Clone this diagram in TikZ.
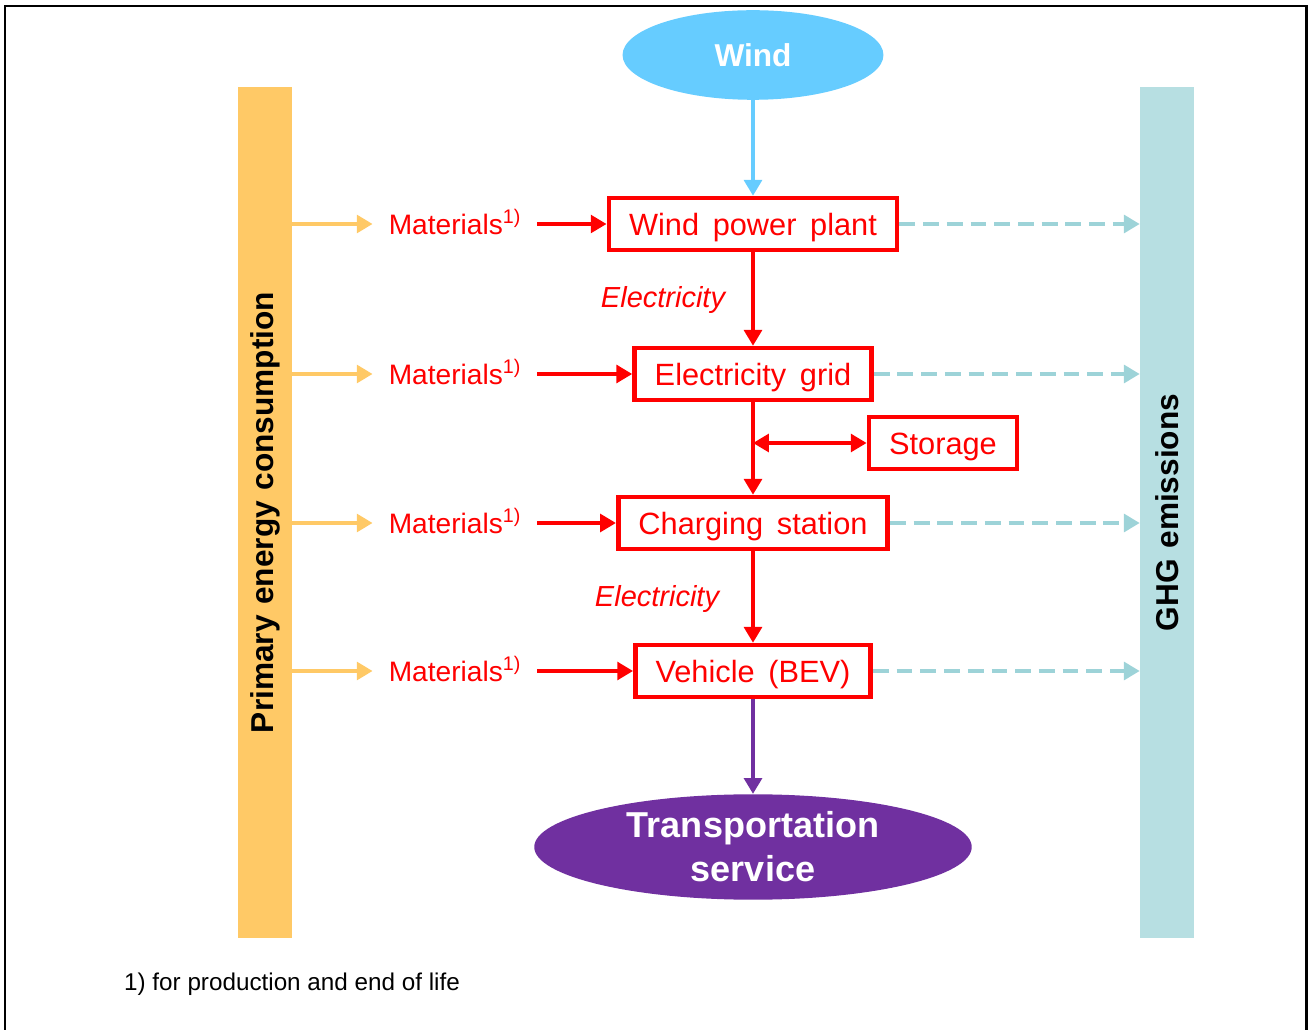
\documentclass[tikz,border=0pt]{standalone}
\usepackage{fontspec}
\setmainfont{Liberation Sans}
\usetikzlibrary{shapes, arrows.meta}
\usepackage{xcolor}

\definecolor{windblue}{HTML}{66CCFF}
\definecolor{pecyellow}{HTML}{FFC966}
\definecolor{ghgteal}{HTML}{B7DFE2}
\definecolor{ghgarrow}{HTML}{9DD3D8}
\definecolor{servpurple}{HTML}{7030A0}
\newcommand{\boxfont}{\fontsize{17.5}{20}\selectfont\spaceskip=7.8pt\relax}
\newcommand{\barfont}{\bfseries\fontsize{18}{21}\selectfont\spaceskip=6pt\relax}

\begin{document}
\begin{tikzpicture}[x=0.02cm, y=-0.02cm]
		\tikzstyle{block} = [rectangle, draw=red, line width=2.6pt, text=red, font=\boxfont, text height=16.6pt, text depth=4pt, minimum height=29.5pt, inner xsep=11.5pt]
		\tikzstyle{bar} = [rectangle, rotate=90, minimum width=484pt, minimum height=30.6pt, font=\barfont]
		\tikzstyle{terminal} = [ellipse, text=white, inner sep=0pt, font=\bfseries\fontsize{18}{21}\selectfont, align=center]
		\tikzstyle{material} = [text=red, inner xsep=9pt, text height=15.2pt, text depth=3.7pt, font=\fontsize{16}{19}\selectfont]
		\tikzstyle{flowlabel} = [text=red, font=\itshape\fontsize{16.5}{19}\selectfont]
		\tikzstyle{tip} = [-{Triangle[length=9pt, width=10pt]}]
		\tikzstyle{redline} = [draw=red, line width=2.4pt, tip]
		\tikzstyle{inputline} = [draw=pecyellow, line width=2.4pt, tip]
		\tikzstyle{emission} = [draw=ghgarrow, line width=2.6pt, dash pattern=on 9pt off 4.5pt, tip]
		\useasboundingbox (0,0) rectangle (1313,1030);
		\draw [line width=1.7pt] (5,1032) -- (5,6) -- (1306,6) -- (1306,1032);
		\node [terminal, fill=windblue, minimum width=148.5pt, minimum height=51pt] at (753,55) (wind) {Wind};
		\node [block] at (753,224) (plant) {Wind power plant};
		\node [block] at (753,374) (grid) {Electricity grid};
		\node [block] at (943,443) (storage) {Storage};
		\node [block] at (753,523) (charging) {Charging station};
		\node [block] at (753,671) (vehicle) {Vehicle (BEV)};
		\node [terminal, fill=servpurple, minimum width=249pt, minimum height=60pt, font=\bfseries\fontsize{20.5}{25}\selectfont] at (753,847) (service) {Transportation\\service};
		\node [bar, fill=pecyellow] at (265,512.5) (pec) {Primary energy consumption};
		\node [bar, fill=ghgteal] at (1167,512.5) (ghg) {GHG emissions};
		\node [material] at (455,224) (mat1) {Materials\textsuperscript{1)}};
		\node [material] at (455,374) (mat2) {Materials\textsuperscript{1)}};
		\node [material] at (455,523) (mat3) {Materials\textsuperscript{1)}};
		\node [material] at (455,671) (mat4) {Materials\textsuperscript{1)}};
		\node [flowlabel] at (663,300) (elec1) {Electricity};
		\node [flowlabel] at (657,599) (elec2) {Electricity};
		\node [anchor=west, font=\fontsize{13.8}{16}\selectfont] at (118,984) (note) {1) for production and end of life};
		\coordinate (tap) at (grid.south |- storage);
		\path [draw=windblue, line width=2.4pt, tip] (wind) -- (plant);
		\path [redline] (plant) -- (grid);
		\path [redline] (grid) -- (charging);
		\path [redline] (charging) -- (vehicle);
		\path [draw=red, line width=2.4pt, {Triangle[length=9pt, width=10pt]}-{Triangle[length=9pt, width=10pt]}] (tap) -- (storage);
		\path [draw=servpurple, line width=2.4pt, tip] (vehicle) -- (service);
		\path [inputline] (pec.south |- mat1) -- (mat1);
		\path [inputline] (pec.south |- mat2) -- (mat2);
		\path [inputline] (pec.south |- mat3) -- (mat3);
		\path [inputline] (pec.south |- mat4) -- (mat4);
		\path [redline] (mat1) -- (plant);
		\path [redline] (mat2) -- (grid);
		\path [redline] (mat3) -- (charging);
		\path [redline] (mat4) -- (vehicle);
		\path [emission] (plant) -- (ghg.north |- plant);
		\path [emission] (grid) -- (ghg.north |- grid);
		\path [emission] (charging) -- (ghg.north |- charging);
		\path [emission] (vehicle) -- (ghg.north |- vehicle);
	\end{tikzpicture}
\end{document}
